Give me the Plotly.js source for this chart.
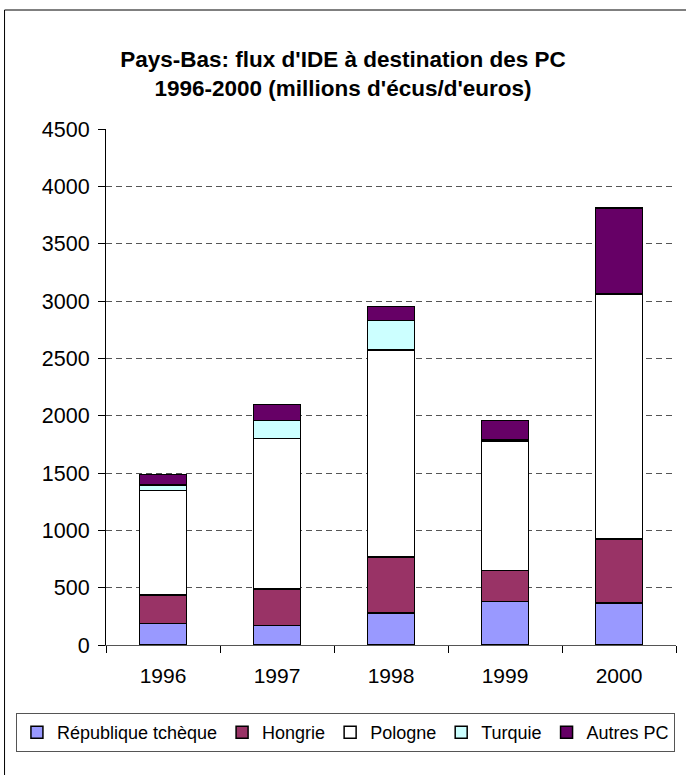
<!DOCTYPE html>
<html>
<head>
<meta charset="utf-8">
<script src="https://cdn.plot.ly/plotly-3.0.1.min.js"></script>
<style>html,body{margin:0;padding:0;background:#fff;}#chart{width:686px;height:775px;}</style>
</head>
<body>
<div id="chart"></div>
<script>
const years = ['1996', '1997', '1998', '1999', '2000'];
const seriesNames = ['République tchèque', 'Hongrie', 'Pologne', 'Turquie', 'Autres PC'];
const czech   = [187, 169, 277, 380, 365];
const hongrie = [247, 319, 489, 268, 560];
const pologne = [913, 1314, 1805, 1130, 2137];
const turquie = [48, 157, 259, 15, 0];
const autres  = [91, 139, 124, 166, 751];
const yTicks = [0, 500, 1000, 1500, 2000, 2500, 3000, 3500, 4000, 4500];

const colors = ['#9999FF', '#993366', '#FFFFFF', '#CCFFFF', '#660066'];
const values = [czech, hongrie, pologne, turquie, autres];

const traces = values.map((v, i) => ({
  type: 'bar',
  name: seriesNames[i],
  x: years,
  y: v,
  marker: {color: colors[i], line: {color: '#000', width: 1.5}},
  hoverinfo: 'x+y+name'
}));

const font = 'Arial, "Liberation Sans", sans-serif';
const layout = {
  width: 686, height: 775,
  margin: {l: 106, r: 10, t: 129, b: 130},
  barmode: 'stack',
  bargap: 0.59,
  paper_bgcolor: '#fff',
  plot_bgcolor: '#fff',
  font: {family: font, color: '#000'},
  title: {
    text: "<b>Pays-Bas: flux d'IDE à destination des PC<br>1996-2000 (millions d'écus/d'euros)</b>",
    font: {family: font, size: 22.5, color: '#000'},
    x: 0.5, xanchor: 'center',
    y: 1 - 67 / 775, yref: 'container', yanchor: 'middle'
  },
  xaxis: {
    type: 'category',
    showline: true, linecolor: '#555', linewidth: 1,
    ticks: 'outside', tickson: 'boundaries', ticklen: 7, tickcolor: '#000',
    tickfont: {family: font, size: 21, color: '#000'},
    ticklabelstandoff: 12,
    showgrid: false
  },
  yaxis: {
    range: [0, 4500],
    tickvals: yTicks,
    ticktext: yTicks.map(String),
    showline: true, linecolor: '#000', linewidth: 1,
    ticks: 'outside', ticklen: 7, tickcolor: '#000',
    tickfont: {family: font, size: 21.5, color: '#000'},
    ticklabelstandoff: 4,
    showgrid: true, gridcolor: '#555', griddash: '6px,4px', gridwidth: 1,
    zeroline: false
  },
  legend: {
    orientation: 'h', traceorder: 'normal',
    x: -0.158, xanchor: 'left',
    y: -0.132, yanchor: 'top',
    bordercolor: '#555', borderwidth: 1,
    font: {family: font, size: 18, color: '#000'},
    itemwidth: 30
  },
  shapes: [{
    type: 'rect', xref: 'paper', yref: 'paper',
    x0: -0.178, x1: 1.03, y0: -0.27, y1: 1.2306,
    line: {color: '#000', width: 1}, fillcolor: 'rgba(0,0,0,0)', layer: 'below'
  }],
  showlegend: true
};

Plotly.newPlot('chart', traces, layout, {displayModeBar: false, staticPlot: true});
</script>
</body>
</html>
